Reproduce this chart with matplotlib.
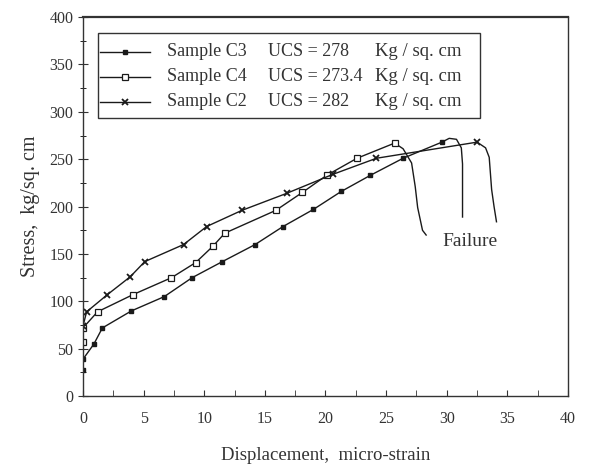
import matplotlib
matplotlib.use("Agg")
import matplotlib.pyplot as plt
from matplotlib.lines import Line2D
from matplotlib.patches import Rectangle

plt.rcParams["font.family"] = ["Liberation Serif", "DejaVu Serif"]

# Sample C3 (filled squares)
c3_x = [0.0, 0.0, 0.9, 1.6, 4.0, 6.7, 9.0, 11.5, 14.2, 16.5, 19.0, 21.3, 23.7, 26.4, 29.6]
c3_y = [28, 39, 55, 72, 90, 105, 125, 142, 160, 179, 197, 216, 233, 251, 268]
c3_fail_x = [29.6, 30.2, 30.8, 31.2, 31.3, 31.3, 31.3]
c3_fail_y = [268, 272, 271, 262, 245, 215, 189]

# Sample C4 (open squares)
c4_x = [0.0, 0.0, 1.2, 4.1, 7.3, 9.3, 10.7, 11.7, 15.9, 18.1, 20.1, 22.6, 25.7]
c4_y = [57, 72, 89, 107, 125, 141, 158, 172, 196, 215, 233, 251, 267]
c4_fail_x = [25.7, 26.4, 27.1, 27.4, 27.6, 28.0, 28.3]
c4_fail_y = [267, 261, 246, 221, 199, 175, 170]

# Sample C2 (crosses)
c2_x = [0.0, 0.3, 2.0, 3.9, 5.1, 8.3, 10.2, 13.1, 16.8, 20.6, 24.2, 32.5]
c2_y = [74, 89, 107, 126, 142, 160, 179, 196, 214, 234, 251, 268]
c2_fail_x = [32.5, 33.2, 33.5, 33.6, 33.7, 33.9, 34.1]
c2_fail_y = [268, 262, 252, 235, 218, 200, 184]

legend_names = ["Sample C3", "Sample C4", "Sample C2"]
legend_ucs = ["UCS = 278", "UCS = 273.4", "UCS = 282"]
legend_unit = "Kg / sq. cm"

LINE = "#1a1a1a"
TXT = "#333333"

fig = plt.figure(figsize=(6.03, 4.65), dpi=100)
ax = fig.add_axes([0.1376, 0.148, 0.8044, 0.8154])

styles = [
    dict(marker="s", ms=3.5, mfc=LINE, mec=LINE),
    dict(marker="s", ms=4.5, mfc="white", mec=LINE, mew=0.9),
    dict(marker="x", ms=4, mec=LINE, mew=1.3),
]
series = [(c3_x, c3_y, c3_fail_x, c3_fail_y),
          (c4_x, c4_y, c4_fail_x, c4_fail_y),
          (c2_x, c2_y, c2_fail_x, c2_fail_y)]

for (x, y, fx, fy), st in zip(series, styles):
    ax.plot(fx, fy, color=LINE, lw=1.0)
    ax.plot(x, y, color=LINE, lw=1.0, **st)

ax.set_xlim(0, 40)
ax.set_ylim(0, 400)
ax.set_xticks(range(0, 41, 5))
ax.set_xticks([v + 2.5 for v in range(0, 40, 5)], minor=True)
ax.set_yticks(range(0, 401, 50))
ax.set_yticks([v + 25 for v in range(0, 400, 50)], minor=True)
ax.tick_params(axis="x", which="both", direction="in", length=4, labelsize=11.5,
               pad=11, colors=TXT)
ax.tick_params(axis="y", which="major", direction="inout", length=7, labelsize=11.5,
               colors=TXT)
ax.tick_params(axis="y", which="minor", direction="inout", length=4)
for s in ax.spines.values():
    s.set_color(TXT)
    s.set_linewidth(1.0)
ax.spines["top"].set_linewidth(1.6)

ax.set_xlabel("Displacement,  micro-strain", fontsize=13.5, labelpad=14, color=TXT)
ax.set_ylabel("Stress,  kg/sq. cm", fontsize=14.5, labelpad=7, color=TXT)

ax.text(29.6, 163, "Failure", fontsize=14, va="center", color=TXT)

# hand-built legend box (three aligned text columns)
ax.add_patch(Rectangle((0.031, 0.733), 0.788, 0.225, transform=ax.transAxes,
                       fill=False, ec=TXT, lw=1.0))
for i, st in enumerate(styles):
    yy = 0.908 - i * 0.066
    ax.add_line(Line2D([0.035, 0.138], [yy, yy], transform=ax.transAxes,
                       color=LINE, lw=1.0))
    ax.add_line(Line2D([0.087], [yy], transform=ax.transAxes, color=LINE,
                       lw=0, **st))
    ax.text(0.173, yy, legend_names[i], transform=ax.transAxes, fontsize=13,
            va="center", color=TXT)
    ax.text(0.381, yy, legend_ucs[i], transform=ax.transAxes, fontsize=13,
            va="center", color=TXT)
    ax.text(0.603, yy, legend_unit, transform=ax.transAxes, fontsize=13.5,
            va="center", color=TXT)

fig.savefig("out.png", dpi=100)
